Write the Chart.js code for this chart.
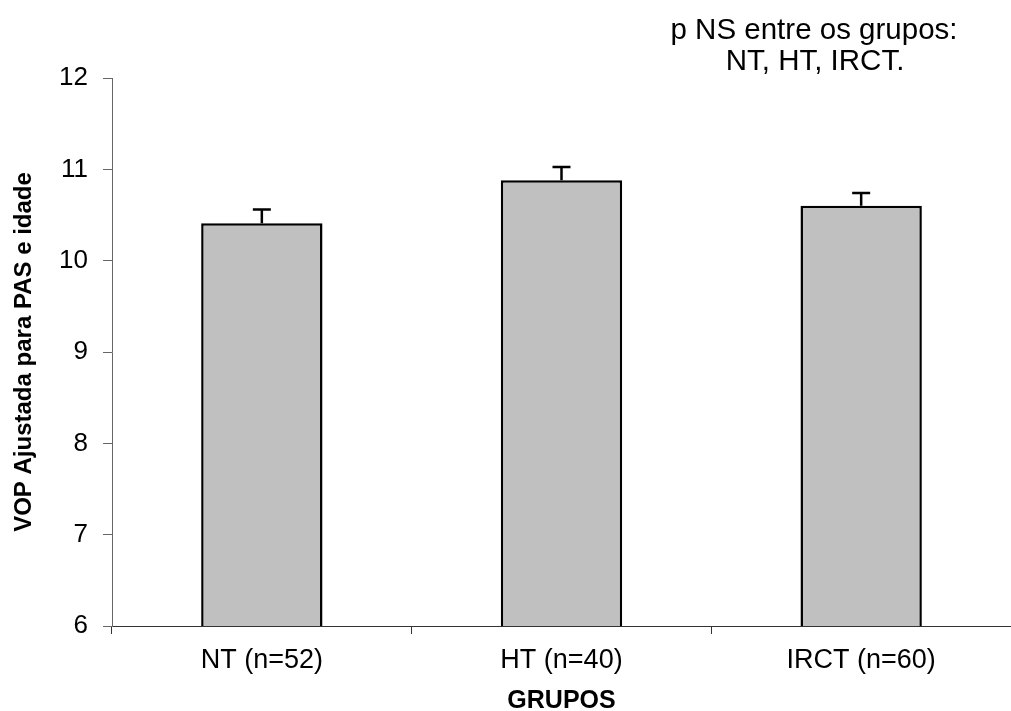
<!DOCTYPE html>
<html>
<head>
<meta charset="utf-8">
<script src="https://cdn.jsdelivr.net/npm/chart.js@4"></script>
<style>
  body { margin: 0; background: #fff; }
  #wrap { width: 1011px; height: 711px; }
</style>
</head>
<body>
<div id="wrap"><canvas id="myChart" width="1011" height="711"></canvas></div>
<script>
let groups = ['NT (n=52)', 'HT (n=40)', 'IRCT (n=60)'];
let means = [10.41, 10.88, 10.6];
let errors = [0.15, 0.145, 0.14];
let yMin = 6;
let yMax = 12;
let yStep = 1;
let note = ['p NS entre os grupos:', 'NT, HT, IRCT.'];

let font = "'Liberation Sans', Arial, sans-serif";

// error bars, only the upper half shows above the bar
let errorBars = {
  id: 'errorBars',
  afterDatasetsDraw(chart) {
    let ctx = chart.ctx;
    let yScale = chart.scales.y;
    let bars = chart.getDatasetMeta(0).data;
    ctx.save();
    ctx.strokeStyle = '#000';
    ctx.lineWidth = 2.5;
    for (let i = 0; i < bars.length; i++) {
      let x = bars[i].x;
      let yBase = yScale.getPixelForValue(means[i]);
      let yTop = yScale.getPixelForValue(means[i] + errors[i]);
      ctx.beginPath();
      ctx.moveTo(x, yBase);
      ctx.lineTo(x, yTop);
      ctx.moveTo(x - 9, yTop);
      ctx.lineTo(x + 9, yTop);
      ctx.stroke();
    }
    ctx.restore();
  }
};

let noteText = {
  id: 'noteText',
  afterDraw(chart) {
    let ctx = chart.ctx;
    ctx.save();
    ctx.fillStyle = '#000';
    ctx.font = '29.5px ' + font;
    ctx.textAlign = 'center';
    ctx.textBaseline = 'alphabetic';
    ctx.fillText(note[0], 814, 39);
    ctx.fillText(note[1], 815, 70);
    ctx.restore();
  }
};

let ctx = document.getElementById('myChart').getContext('2d');
let myChart = new Chart(ctx, {
  type: 'bar',
  data: {
    labels: groups,
    datasets: [{
      label: 'VOP',
      data: means,
      backgroundColor: '#c0c0c0',
      borderColor: '#000',
      borderWidth: 2.5,
      borderSkipped: false,
      categoryPercentage: 1,
      barPercentage: 0.405
    }]
  },
  options: {
    responsive: false,
    animation: false,
    layout: {
      padding: { top: 78, right: 0, bottom: 0, left: 0 }
    },
    plugins: {
      legend: { display: false },
      tooltip: { enabled: false }
    },
    scales: {
      x: {
        afterFit(scale) { scale.height = 85; },
        grid: {
          drawOnChartArea: false,
          tickLength: 8,
          color: '#333'
        },
        border: { color: '#333', width: 1 },
        ticks: {
          color: '#000',
          padding: 10,
          font: { family: font, size: 27 }
        },
        title: {
          display: true,
          text: 'GRUPOS',
          color: '#000',
          padding: { top: 0, bottom: 0 },
          font: { family: font, size: 25, weight: 'bold', lineHeight: 0.8 }
        }
      },
      y: {
        min: yMin,
        max: yMax,
        afterFit(scale) { scale.width = 112; },
        grid: {
          drawOnChartArea: false,
          tickLength: 9,
          color: '#666'
        },
        border: { color: '#666', width: 1 },
        ticks: {
          stepSize: yStep,
          color: '#000',
          padding: 15,
          font: { family: font, size: 26 }
        },
        title: {
          display: true,
          text: 'VOP Ajustada para PAS e idade',
          color: '#000',
          padding: { top: 10, bottom: 0 },
          font: { family: font, size: 24, weight: 'bold', lineHeight: 1.2 }
        }
      }
    }
  },
  plugins: [errorBars, noteText]
});
</script>
</body>
</html>
